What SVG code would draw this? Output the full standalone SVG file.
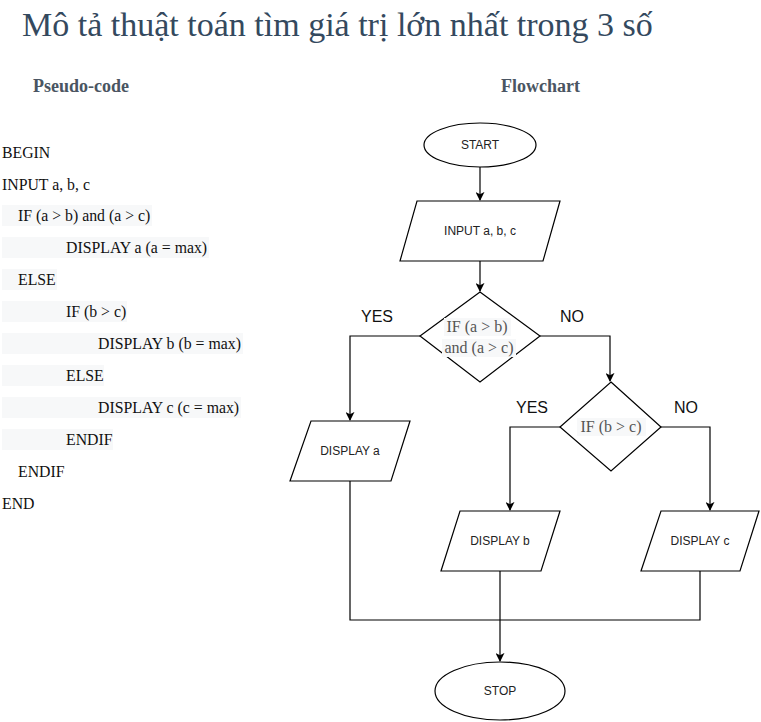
<svg xmlns="http://www.w3.org/2000/svg" width="761" height="722" viewBox="0 0 761 722">
<defs>
<marker id="arr" viewBox="0 0 10 10" refX="9" refY="5" markerWidth="9" markerHeight="9" markerUnits="userSpaceOnUse" orient="auto">
<path d="M0,0 L10,5 L0,10 L2.5,5 Z" fill="#000"/>
</marker>
<style>
.title{font-family:"Liberation Serif",serif;font-size:34px;fill:#34495e}
.head{font-family:"Liberation Serif",serif;font-size:18px;font-weight:bold;fill:#4a5562}
.code{font-family:"Liberation Serif",serif;font-size:15.8px;fill:#111}
.hl{fill:#f7f8f9}
.shape{fill:#fff;stroke:#000;stroke-width:1.2}
.lbl{font-family:"Liberation Sans",Arial,sans-serif;font-size:12px;fill:#222;text-anchor:middle}
.yn{font-family:"Liberation Sans",Arial,sans-serif;font-size:16px;fill:#111;text-anchor:middle}
.cond{font-family:"Liberation Serif",serif;font-size:16px;fill:#555;text-anchor:middle}
.conn{fill:none;stroke:#000;stroke-width:1.2}
</style>
</defs>
<rect width="761" height="722" fill="#fff"/>
<text class="title" x="22" y="36">Mô tả thuật toán tìm giá trị lớn nhất trong 3 số</text>
<text class="head" x="33" y="92">Pseudo-code</text>
<text class="head" x="501" y="92">Flowchart</text>

<g id="pseudocode">
<rect class="hl" x="2" y="205" width="150" height="21"/>
<rect class="hl" x="2" y="237" width="207" height="21"/>
<rect class="hl" x="2" y="269" width="55" height="21"/>
<rect class="hl" x="2" y="301" width="125" height="21"/>
<rect class="hl" x="2" y="333" width="241" height="21"/>
<rect class="hl" x="2" y="365" width="102" height="21"/>
<rect class="hl" x="2" y="397" width="239" height="21"/>
<rect class="hl" x="2" y="429" width="111" height="21"/>
<text class="code" x="2" y="158">BEGIN</text>
<text class="code" x="2" y="190">INPUT a, b, c</text>
<text class="code" x="18" y="221">IF (a &gt; b) and (a &gt; c)</text>
<text class="code" x="66" y="253">DISPLAY a (a = max)</text>
<text class="code" x="18" y="285">ELSE</text>
<text class="code" x="66" y="317">IF (b &gt; c)</text>
<text class="code" x="98" y="349">DISPLAY b (b = max)</text>
<text class="code" x="66" y="381">ELSE</text>
<text class="code" x="98" y="413">DISPLAY c (c = max)</text>
<text class="code" x="66" y="445">ENDIF</text>
<text class="code" x="18" y="477">ENDIF</text>
<text class="code" x="2" y="509">END</text>
</g>

<g id="connectors">
<path class="conn" d="M480,167 V200" marker-end="url(#arr)"/>
<path class="conn" d="M480,261 V291" marker-end="url(#arr)"/>
<path class="conn" d="M420,336 H350 V420" marker-end="url(#arr)"/>
<path class="conn" d="M540,336 H610 V381" marker-end="url(#arr)"/>
<path class="conn" d="M560,427 H510 V510" marker-end="url(#arr)"/>
<path class="conn" d="M661,427 H710 V510" marker-end="url(#arr)"/>
<path class="conn" d="M350,481 V620 H500"/>
<path class="conn" d="M700,571 V620 H500"/>
<path class="conn" d="M500,571 V661" marker-end="url(#arr)"/>
</g>

<g id="labels">
<text class="yn" x="377" y="322">YES</text>
<text class="yn" x="572" y="322">NO</text>
<text class="yn" x="532" y="413">YES</text>
<text class="yn" x="686" y="413">NO</text>
</g>

<g id="start">
<ellipse class="shape" cx="480" cy="145" rx="56" ry="22"/>
<text class="lbl" x="480" y="149">START</text>
</g>
<g id="input">
<polygon class="shape" points="417,201 560,201 543,261 400,261"/>
<text class="lbl" x="480" y="235">INPUT a, b, c</text>
</g>
<g id="cond1">
<polygon class="shape" points="480,292 540,336 480,382 420,336"/>
<rect class="hl" x="444" y="318" width="67" height="18"/>
<rect class="hl" x="442" y="339" width="74" height="18"/>
<text class="cond" x="477" y="332">IF (a &gt; b)</text>
<text class="cond" x="479" y="353">and (a &gt; c)</text>
</g>
<g id="displayA">
<polygon class="shape" points="311,421 410,421 391,481 290,481"/>
<text class="lbl" x="350" y="455">DISPLAY a</text>
</g>
<g id="cond2">
<polygon class="shape" points="611,382 661,427 611,471 560,427"/>
<rect class="hl" x="577" y="418" width="69" height="18"/>
<text class="cond" x="611" y="432">IF (b &gt; c)</text>
</g>
<g id="displayB">
<polygon class="shape" points="460,511 560,511 541,571 441,571"/>
<text class="lbl" x="500" y="545">DISPLAY b</text>
</g>
<g id="displayC">
<polygon class="shape" points="661,511 759,511 740,571 641,571"/>
<text class="lbl" x="700" y="545">DISPLAY c</text>
</g>
<g id="stop">
<ellipse class="shape" cx="500" cy="691" rx="65" ry="29"/>
<text class="lbl" x="500" y="695">STOP</text>
</g>
</svg>
